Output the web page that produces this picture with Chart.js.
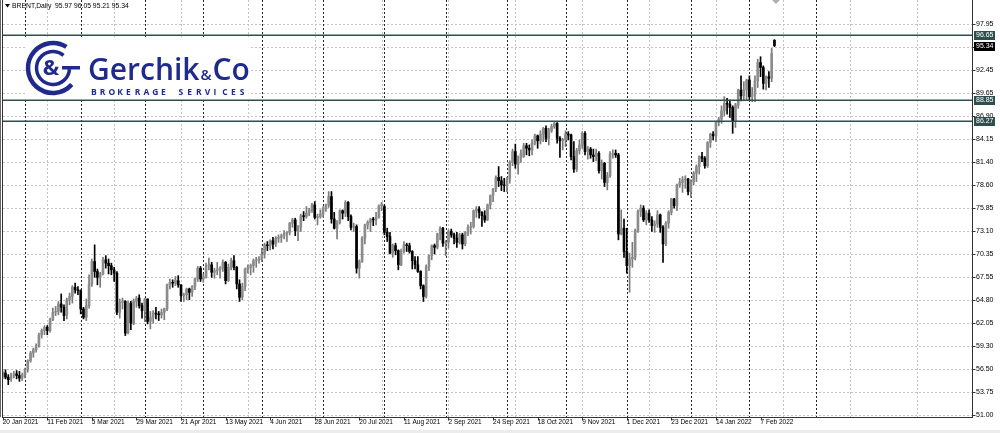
<!DOCTYPE html>
<html><head><meta charset="utf-8">
<script src="https://cdn.jsdelivr.net/npm/chart.js@4.4.1/dist/chart.umd.min.js"></script>
<style>html,body{margin:0;padding:0;background:#fff;}#wrap{width:1000px;height:433px;position:relative;overflow:hidden;}</style>
</head><body><div id="wrap"><canvas id="c" width="1000" height="433"></canvas></div>
<script>
const symbol = 'BRENT,Daily';
const open = [55.6,56.0,55.5,55.3,55.8,55.9,55.7,55.4,
55.8,56.4,57.5,58.4,58.8,59.3,60.6,61.1,61.5,61.1,62.4,63.3,63.4,64.3,63.9,62.9,64.8,65.2,66.3,66.0,
65.9,63.7,62.7,64.1,66.7,69.4,68.2,67.5,67.9,69.6,69.2,68.9,68.4,68.0,63.3,64.5,64.6,60.8,64.4,62.0,64.6,65.0,64.1,
63.5,64.9,62.2,62.7,63.2,63.1,63.0,63.3,63.7,66.6,66.9,66.8,67.1,66.6,65.3,65.4,66.1,65.7,66.4,67.3,68.6,
67.3,67.6,68.9,69.0,68.1,68.3,68.4,68.6,69.3,67.1,68.7,69.5,68.7,66.7,65.1,66.4,68.5,68.7,68.9,69.5,69.6,
69.7,70.3,71.4,71.3,71.9,71.5,72.2,72.3,72.5,72.7,72.9,74.0,74.4,73.1,73.5,74.9,74.8,75.2,75.6,76.2,74.7,74.8,
75.1,75.8,76.2,77.2,74.5,73.4,74.1,75.5,75.2,76.5,74.8,73.5,73.6,68.6,69.4,72.2,73.8,74.1,74.5,74.4,74.7,76.1,
76.0,72.9,72.4,70.4,71.3,70.7,69.0,70.6,71.4,71.3,70.6,69.5,69.0,68.2,66.5,65.2,68.8,70.1,71.3,71.1,72.7,73.4,
71.6,71.7,73.0,72.6,72.2,71.7,72.6,71.5,72.9,73.5,73.6,75.5,75.7,75.3,74.9,74.4,76.2,77.3,78.1,79.5,79.1,78.6,
78.5,79.3,81.3,82.6,81.1,81.9,82.0,83.3,83.0,82.8,83.6,84.5,83.9,84.7,85.4,84.2,85.1,85.6,86.0,84.2,83.9,
84.0,84.7,84.6,82.0,80.5,82.7,83.4,84.8,82.6,82.9,82.2,82.0,82.4,80.3,81.2,78.9,79.7,82.3,82.4,82.2,72.7,73.4,
70.6,68.9,69.7,69.9,73.1,75.4,75.8,74.4,75.2,74.4,73.7,73.9,75.0,73.5,71.5,74.0,75.3,76.9,76.1,78.6,78.9,79.2,79.3,
77.8,79.0,80.0,80.8,82.0,81.8,80.9,83.7,84.7,84.5,86.1,86.5,87.5,88.4,88.3,87.9,86.3,88.2,90.0,89.3,90.0,
91.2,89.2,89.5,91.1,93.3,92.7,90.8,91.6,91.4,95.97];
const high = [56.3,56.4,55.8,56.0,56.2,56.3,56.2,56.0,
56.6,57.6,58.6,59.0,59.5,60.8,61.3,61.7,61.7,62.6,63.8,64.0,64.6,65.5,64.2,65.0,65.6,66.5,66.8,66.4,
66.0,63.9,64.9,67.8,69.7,71.4,68.5,68.1,69.9,70.1,69.7,69.2,68.7,68.2,64.9,65.0,64.7,64.6,64.6,64.9,65.2,65.4,64.4,
65.0,64.9,63.4,63.5,63.9,63.4,63.7,63.8,66.7,67.3,67.2,67.6,67.7,66.6,65.6,66.2,66.2,66.5,67.4,68.8,68.8,
67.9,69.2,69.8,69.3,68.6,69.3,68.8,69.6,69.4,69.1,69.8,70.1,68.8,67.2,66.8,68.6,69.0,69.1,69.7,69.9,70.0,
71.0,71.6,71.8,72.0,72.3,72.4,72.6,72.7,73.1,73.0,74.1,74.6,74.6,73.7,75.1,75.4,76.0,75.8,76.4,76.6,75.1,75.6,
76.0,76.3,77.8,77.8,75.3,74.3,75.6,75.6,76.7,76.6,75.0,74.0,73.8,69.6,72.4,73.9,74.3,74.6,74.7,75.3,76.2,76.5,
76.2,73.4,72.9,71.5,71.6,70.8,70.9,71.8,71.6,71.6,70.7,70.0,70.0,68.3,66.6,69.0,70.2,71.4,71.5,72.8,73.6,73.5,
71.9,73.2,73.3,72.8,72.9,72.8,72.8,73.0,73.8,74.1,75.6,76.0,76.0,75.4,75.5,76.3,77.4,78.2,79.7,80.8,79.6,79.4,
79.5,81.5,82.9,83.5,82.1,82.8,83.6,83.6,83.4,84.0,84.7,84.6,85.1,85.5,85.7,85.4,85.9,86.1,86.1,84.4,84.2,
85.1,85.0,84.7,83.8,83.0,84.0,85.0,85.0,83.2,83.1,82.9,82.9,82.6,81.6,81.3,80.1,82.6,82.8,82.8,82.4,75.6,74.5,
73.4,70.4,71.7,73.3,75.6,76.2,76.1,75.5,75.6,74.8,74.3,75.5,75.1,73.7,74.2,75.5,77.0,77.0,78.7,79.4,79.6,79.7,79.4,
79.2,80.2,81.0,82.1,82.5,82.0,83.8,84.8,85.0,86.2,86.7,88.1,89.2,89.0,88.8,88.1,88.4,90.1,91.7,91.0,91.3,
91.7,90.3,91.7,93.7,94.0,92.9,91.7,92.2,95.0,96.05];
const low = [55.3,55.3,54.6,55.0,55.4,55.3,55.0,55.1,
55.4,56.1,57.3,57.9,58.5,59.1,60.2,60.6,60.6,60.9,62.3,62.9,63.0,63.3,62.3,62.5,64.2,64.4,65.6,65.4,
63.1,62.5,62.3,63.8,66.4,67.5,66.6,66.3,67.8,68.6,67.9,67.8,67.0,63.0,62.6,63.7,60.5,60.7,61.2,61.8,63.9,63.8,62.6,
62.2,61.9,61.3,62.0,62.5,62.3,62.6,62.4,63.5,66.1,66.3,66.5,66.3,64.6,64.6,64.8,64.8,65.2,66.0,67.0,67.0,
66.9,67.4,68.4,67.5,67.4,67.8,67.4,68.2,66.7,67.0,68.4,68.4,66.1,64.6,64.8,65.9,68.0,67.8,68.1,68.7,69.2,
69.4,69.8,70.7,70.8,70.9,71.2,71.7,71.7,72.1,71.8,72.6,73.5,72.5,71.9,73.0,74.3,74.6,74.9,75.3,74.5,73.8,74.6,
74.7,75.4,75.9,74.0,73.3,72.1,73.9,74.5,74.8,74.3,73.2,73.0,68.0,67.4,69.3,71.5,73.3,73.0,73.7,73.8,74.6,75.5,
72.6,71.8,70.3,69.9,70.2,68.4,68.9,70.4,70.6,70.4,68.5,68.5,68.1,66.1,64.6,65.0,68.3,69.6,70.3,70.9,72.0,71.2,
70.1,71.0,72.3,71.5,71.1,71.5,70.9,71.3,72.5,72.7,73.4,74.7,74.6,73.6,74.1,74.3,75.7,76.6,77.8,78.4,77.9,77.8,
77.8,78.8,80.9,80.6,79.9,81.3,81.9,82.2,82.1,82.2,83.4,83.0,83.5,83.8,83.8,83.4,84.9,85.4,83.6,81.9,82.8,
83.2,84.0,81.6,80.1,80.2,82.3,83.0,82.2,81.7,81.8,81.4,81.5,80.0,79.3,78.4,78.0,79.5,81.8,81.9,72.0,72.6,69.9,
68.0,65.7,68.7,69.6,72.9,74.8,74.2,73.8,74.1,73.0,72.9,73.5,72.9,69.3,71.3,73.4,75.0,75.8,75.5,78.3,77.7,78.2,77.4,
77.1,78.6,79.0,79.9,81.4,80.6,80.7,83.1,84.0,83.8,85.7,86.0,86.9,87.1,86.7,84.8,85.5,87.8,88.7,88.7,88.8,
88.7,88.6,88.6,90.3,91.6,90.1,90.0,90.3,91.0,95.21];
const close = [56.1,55.5,55.2,55.8,55.9,55.7,55.4,55.8,
56.4,57.5,58.4,58.8,59.3,60.6,61.1,61.5,61.1,62.4,63.3,63.4,64.3,63.9,62.9,64.8,65.2,66.3,66.0,65.9,
63.7,62.7,64.1,66.7,69.4,68.2,67.5,67.9,69.6,69.2,68.9,68.4,68.0,63.3,64.5,64.6,60.8,64.4,62.0,64.6,65.0,64.1,63.5,
64.9,62.2,62.7,63.2,63.1,63.0,63.3,63.7,66.6,66.9,66.8,67.1,66.6,65.3,65.4,66.1,65.7,66.4,67.3,68.6,67.3,
67.6,68.9,69.0,68.1,68.3,68.4,68.6,69.3,67.1,68.7,69.5,68.7,66.7,65.1,66.4,68.5,68.7,68.9,69.5,69.6,69.7,
70.3,71.4,71.3,71.9,71.5,72.2,72.3,72.5,72.7,72.9,74.0,74.4,73.1,73.5,74.9,74.8,75.2,75.6,76.2,74.7,74.8,75.1,
75.8,76.2,77.2,74.5,73.4,74.1,75.5,75.2,76.5,74.8,73.5,73.6,68.6,69.4,72.2,73.8,74.1,74.5,74.4,74.7,76.1,76.3,
72.9,72.4,70.4,71.3,70.7,69.0,70.6,71.4,71.3,70.6,69.5,69.0,68.2,66.5,65.2,68.8,70.1,71.3,71.1,72.7,73.4,71.6,
71.7,73.0,72.6,72.2,71.7,72.6,71.5,72.9,73.5,73.6,75.5,75.7,75.3,74.9,74.4,76.2,77.3,78.1,79.5,79.1,78.6,78.5,
79.3,81.3,82.6,81.1,81.9,82.4,83.3,83.0,82.8,83.6,84.5,83.9,84.7,85.4,84.2,85.1,85.6,86.0,84.2,83.9,84.0,
84.7,84.6,82.0,80.5,82.7,83.4,84.8,82.6,82.9,82.2,82.0,82.4,80.3,81.2,78.9,79.7,82.3,82.4,82.2,72.7,73.4,70.6,
68.9,69.7,69.9,73.1,75.4,75.8,74.4,75.2,74.4,73.7,73.9,75.0,73.5,71.5,74.0,75.3,76.9,76.1,78.6,78.9,79.2,79.3,77.8,
79.0,80.0,80.8,82.0,81.8,80.9,83.7,84.7,84.5,86.1,86.5,87.5,88.4,88.3,87.9,86.3,88.2,90.0,89.3,90.0,91.2,
89.2,89.5,91.1,93.3,92.7,90.8,91.6,91.4,94.4,95.34];

const tickIdx = [0,16,32,48,64,80,96,112,128,144,160,176,192,208,224,240,256,272];
const tickLabels = ['20 Jan 2021','11 Feb 2021','5 Mar 2021','29 Mar 2021','21 Apr 2021','13 May 2021','4 Jun 2021','28 Jun 2021','20 Jul 2021','11 Aug 2021','2 Sep 2021','24 Sep 2021','18 Oct 2021','9 Nov 2021','1 Dec 2021','23 Dec 2021','14 Jan 2022','7 Feb 2022'];
const priceTicks = [51.00,53.75,56.50,59.30,62.05,64.80,67.55,70.35,73.10,75.85,78.60,81.40,84.15,86.90,89.65,92.45,95.20,97.95];
const levels = [96.65, 88.85, 86.27];
const monthStarts = [8,28,51,72,93,115,137,159,181,202,224,247,268,292];
const gridIdx = [16,40,64,88,112,136,160,184,208,232,256,280,304,328];

const BULL = '#8c8c8c', BULLWICK = '#7a7a7a', BEAR = '#000000';
const LEVEL = '#2f4f4f';
const FONT = '"Liberation Sans", Arial, sans-serif';

function crisp(v){ return Math.round(v) + 0.5; }

const gridPlugin = {
  id: 'mtgrid',
  beforeDatasetsDraw(chart){
    const {ctx, chartArea:a, scales:{x, y}} = chart;
    ctx.save();
    ctx.lineWidth = 1;
    ctx.strokeStyle = '#c4c4c4';
    ctx.setLineDash([2,2]);
    priceTicks.forEach(p => {
      const py = crisp(y.getPixelForValue(p));
      ctx.beginPath(); ctx.moveTo(a.left, py); ctx.lineTo(a.right, py); ctx.stroke();
    });
    gridIdx.forEach(i => {
      const px = crisp(x.getPixelForValue(i));
      if (px > a.right) return;
      ctx.beginPath(); ctx.moveTo(px, a.top); ctx.lineTo(px, a.bottom); ctx.stroke();
    });
    ctx.strokeStyle = '#222';
    ctx.setLineDash([2,2]);
    monthStarts.forEach(i => {
      const px = crisp(x.getPixelForValue(i));
      ctx.beginPath(); ctx.moveTo(px, a.top); ctx.lineTo(px, a.bottom); ctx.stroke();
    });
    ctx.setLineDash([]);
    drawLogo(ctx);
    ctx.restore();
  },
  afterDatasetsDraw(chart){
    const {ctx, chartArea:a, scales:{x, y}} = chart;
    ctx.save();
    ctx.strokeStyle = LEVEL; ctx.lineWidth = 1.5;
    levels.forEach(p => {
      const py = Math.round(y.getPixelForValue(p)) + 0.25;
      ctx.beginPath(); ctx.moveTo(a.left, py); ctx.lineTo(a.right, py); ctx.stroke();
    });
    ctx.restore();
  },
  afterDraw(chart){
    const {ctx, chartArea:a, scales:{x, y}} = chart;
    ctx.save();
    ctx.lineWidth = 1;
    ctx.strokeStyle = '#666';
    ctx.beginPath(); ctx.moveTo(0.5, 0); ctx.lineTo(0.5, a.bottom); ctx.stroke();
    ctx.strokeStyle = '#333';
    ctx.beginPath(); ctx.moveTo(2.5, 0); ctx.lineTo(2.5, a.bottom + 0.5); ctx.stroke();
    ctx.beginPath(); ctx.moveTo(2, a.bottom + 0.5); ctx.lineTo(a.right + 0.5, a.bottom + 0.5); ctx.stroke();
    ctx.beginPath(); ctx.moveTo(a.right + 0.5, 0); ctx.lineTo(a.right + 0.5, a.bottom + 1); ctx.stroke();
    priceTicks.forEach(p => {
      const py = crisp(y.getPixelForValue(p));
      ctx.beginPath(); ctx.moveTo(a.right, py); ctx.lineTo(a.right + 3.5, py); ctx.stroke();
    });
    tickIdx.forEach(i => {
      const px = crisp(x.getPixelForValue(i));
      ctx.beginPath(); ctx.moveTo(px, a.bottom); ctx.lineTo(px, a.bottom + 3.5); ctx.stroke();
    });
    ctx.fillStyle = '#ececec'; ctx.fillRect(0, 430, 1000, 3);
    ctx.font = '7px ' + FONT; ctx.textBaseline = 'middle'; ctx.textAlign = 'left';
    const box = (p, bg) => {
      const py = Math.round(y.getPixelForValue(p));
      ctx.fillStyle = bg; ctx.fillRect(a.right + 2, py - 4, 21, 9);
      ctx.fillStyle = '#fff'; ctx.fillText(p.toFixed(2), a.right + 4, py + 0.5);
    };
    levels.forEach(p => box(p, LEVEL));
    box(close[close.length - 1], '#000');
    ctx.fillStyle = '#000';
    ctx.beginPath(); ctx.moveTo(5, 4); ctx.lineTo(10, 4); ctx.lineTo(7.5, 7.5); ctx.closePath(); ctx.fill();
    ctx.font = '6.8px ' + FONT; ctx.textBaseline = 'middle';
    const n = close.length - 1;
    ctx.fillText(symbol + '  ' + [open[n], high[n], low[n], close[n]].map(v => v.toFixed(2)).join(' '), 12, 6.5);
    ctx.fillStyle = '#b0b0b0';
    ctx.beginPath(); ctx.moveTo(772, 0); ctx.lineTo(780, 0); ctx.lineTo(776, 4); ctx.closePath(); ctx.fill();
    ctx.restore();
  }
};

function drawLogo(ctx){
  const blue = '#1f2b8c';
  ctx.save();
  ctx.fillStyle = '#fff'; ctx.fillRect(25, 37, 225, 61);
  ctx.strokeStyle = blue; ctx.fillStyle = blue;
  ctx.lineWidth = 4.5;
  ctx.beginPath(); ctx.arc(53, 68, 25, 0.23 * Math.PI, 1.68 * Math.PI); ctx.stroke();
  ctx.lineWidth = 3.5;
  ctx.beginPath(); ctx.arc(53, 68, 16.5, 0.02 * Math.PI, 1.72 * Math.PI); ctx.stroke();
  ctx.fillRect(62, 66, 18, 3.5);
  ctx.font = 'bold 22px "Open Sans", sans-serif'; ctx.textAlign = 'center'; ctx.textBaseline = 'middle';
  ctx.fillText('&', 51, 69);
  ctx.textAlign = 'left'; ctx.textBaseline = 'alphabetic';
  ctx.font = '600 30px "Open Sans", sans-serif';
  ctx.fillText('Gerchik', 88, 80);
  const w = ctx.measureText('Gerchik').width;
  ctx.font = '600 15px "Open Sans", sans-serif';
  ctx.fillText('&', 88 + w + 1, 80);
  const w2 = ctx.measureText('&').width;
  ctx.font = '600 30px "Open Sans", sans-serif';
  ctx.fillText('Co', 88 + w + w2 + 2, 80);
  ctx.font = 'bold 8.5px "Open Sans", sans-serif';
  const s = 'BROKERAGE SERVICES';
  for (let k = 0; k < s.length; k++) ctx.fillText(s[k], 91 + k * 8.75, 95);
  ctx.restore();
}

const bodyData = open.map((o, i) => ({x: i, y: [o, close[i]]}));
const wickData = low.map((l, i) => ({x: i, y: [l, high[i]]}));
const bodyColors = open.map((o, i) => close[i] >= o ? BULL : BEAR);
const wickColors = open.map((o, i) => close[i] >= o ? BULLWICK : BEAR);

new Chart(document.getElementById('c'), {
  type: 'bar',
  data: {
    datasets: [
      {label: 'body', data: bodyData, backgroundColor: bodyColors, barThickness: 2, grouped: false, order: 0},
      {label: 'wick', data: wickData, backgroundColor: wickColors, barThickness: 1, grouped: false, order: 1}
    ]
  },
  options: {
    responsive: false, animation: false, devicePixelRatio: 1,
    layout: {padding: {left: 3, right: 0, top: 0, bottom: 0}},
    plugins: {legend: {display: false}, tooltip: {enabled: false}},
    scales: {
      x: {
        type: 'linear', min: 0.108, max: 347.9, offset: false,
        grid: {display: false, drawTicks: false, offset: false}, border: {display: false},
        afterBuildTicks: s => { s.ticks = tickIdx.map(v => ({value: v})); },
        afterFit: s => { s.height = 16; s.paddingLeft = 0; s.paddingRight = 0; },
        ticks: {autoSkip: false, maxRotation: 0, minRotation: 0, align: 'start', padding: 1,
          font: {family: FONT, size: 6.5}, color: '#000',
          callback: v => { const k = tickIdx.indexOf(v); return k >= 0 ? tickLabels[k] : ''; }}
      },
      y: {
        type: 'linear', position: 'right', min: 50.72, max: 100.81, beginAtZero: false,
        grid: {display: false, drawTicks: false}, border: {display: false},
        afterBuildTicks: s => { s.ticks = priceTicks.map(v => ({value: v})); },
        afterFit: s => { s.width = 28; s.paddingTop = 0; s.paddingBottom = 0; },
        ticks: {padding: 4, font: {family: FONT, size: 7}, color: '#000', callback: v => v.toFixed(2)}
      }
    }
  },
  plugins: [gridPlugin]
});
</script></body></html>
